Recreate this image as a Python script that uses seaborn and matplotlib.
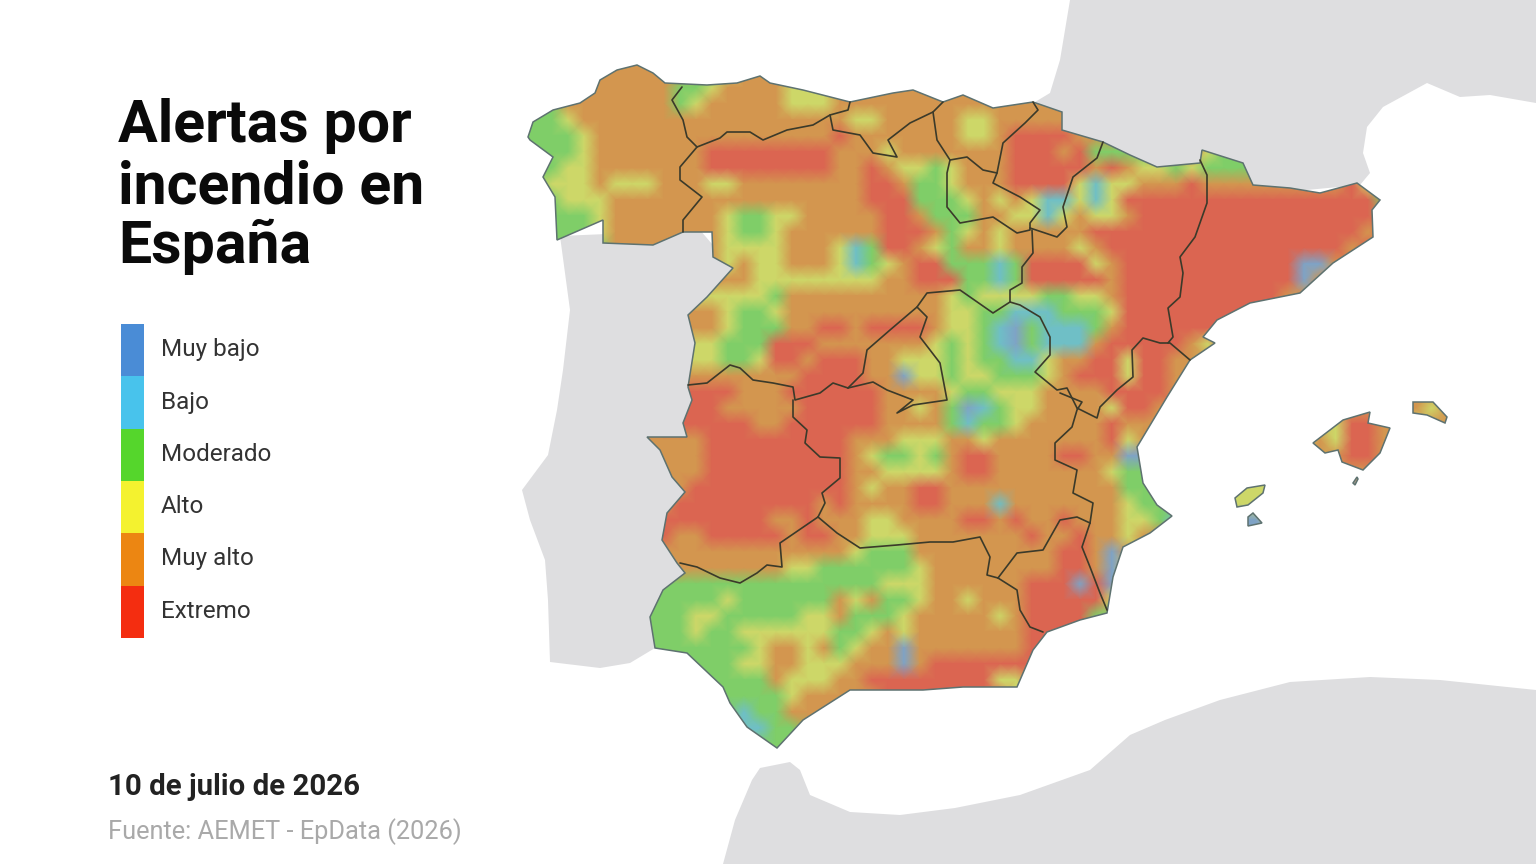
import numpy as np
import pandas as pd
import seaborn as sns
import matplotlib.pyplot as plt
from matplotlib.colors import ListedColormap
from matplotlib.path import Path
from matplotlib.patches import PathPatch
from matplotlib.transforms import Affine2D, ScaledTranslation

sns.set_theme(style='white')
plt.rcParams['font.family'] = ['Roboto', 'DejaVu Sans']

# Legend
risk_levels = ['Muy bajo', 'Bajo', 'Moderado', 'Alto', 'Muy alto', 'Extremo']
key_colors = ['#4A8CD6', '#48C3EC', '#55D62C', '#F4F22F', '#EC8612', '#F42D10']
map_colors = ['#7FA3C6', '#6FBFC6', '#7FCE68', '#CDD768', '#D3964F', '#DB6551']

# Columns start at x=528 and are grouped by five.
risk_rows = [
    "....4 4444. ..... 44444 4",
    "....4 44442 23444 43334 44444 44444 44",
    "...44 44442 34444 43334 44444 44444 44444",
    "22344 44444 44444 44444 33444 44334 44444",
    "22234 44444 44444 44445 44444 44334 55554 4",
    "22234 44444 45555 55554 44344 44444 55545 22224 44322 2",
    "22334 44444 45555 55554 45433 23444 55555 45433 23222 22344 3",
    "23334 33344 43344 44444 45542 23444 55553 13344 45444 44444 4532",
    "22333 44444 44444 44444 45552 22343 43113 13555 55555 55555 5552",
    ".2223 44444 44322 33444 44554 22244 33134 33455 55555 55555 5554",
    ".2223 44444 44322 34444 44555 42343 44444 55555 55555 55555 554",
    "..... 44444 44333 34443 12554 32443 44443 45555 55555 55555 54",
    "..... ..... 44343 34443 12345 52221 25555 34555 55555 55500 4",
    "..... ..... 44443 33333 33445 55221 25555 54555 55555 55504",
    "..... ..... 33333 24444 44444 43233 33223 34555 55555 5544",
    "..... ....4 44322 34444 44444 43322 11122 23555 55555 5",
    "..... ....4 44322 24455 45555 43321 02111 24555 55555",
    "..... ....3 33222 55544 44444 32321 02111 45555 543",
    "..... ....3 33223 55455 54433 32322 11344 55355 44",
    "..... ....4 44444 44555 54403 32332 22345 55355 4",
    "..... ....5 55544 45555 55444 43223 33444 45555 4",
    "..... ....5 55444 44555 55443 42012 33444 43554",
    "..... ....5 55554 45555 55444 42122 34444 45444",
    "..... ...44 45555 55555 44433 34434 44444 45344",
    "..... ...44 45555 55555 43223 24554 44455 4400",
    "..... ...44 45555 55555 44333 34554 44444 4322",
    "..... ....4 55555 55555 43445 54444 44444 4422",
    "..... ....5 55555 55545 44445 54441 44444 44322 2",
    "..... ....5 55555 44544 43344 44554 54454 44332 1",
    "..... ....4 45555 54554 43334 44444 45445 44344",
    "..... ....4 44444 44444 32224 44444 44455 404",
    "..... ....4 44444 43322 22223 44444 44455 403",
    "..... ...22 22222 22222 22333 44444 45550 500",
    "..... ...22 22322 22224 34223 44344 45555 53",
    "..... ...22 33222 22334 22234 44443 45555 22",
    "..... ...22 32233 33332 23434 44444 45555",
    "..... ...22 22223 44342 34404 44444 4555",
    "..... ....2 22233 44333 44404 55555 555",
    "..... ..... .2222 43334 45555 55553 35",
    "..... ..... .2222 23444 4",
    "..... ..... ...12 2444",
    "..... ..... ...11 22",
    "..... ..... ....2 2",
]
# Islands: (row, first column, levels), same rows and columns as above
island_rows = [
    (21, 50, "444"), (22, 49, "33554"), (23, 49, "43554"), (24, 49, "44554"), (25, 51, "44"),
    (26, 51, "0"), (21, 55, "434"), (22, 55, "344"), (20, 55, "444"),
    (26, 44, "333"), (27, 44, "333"), (28, 44, "00"), (29, 44, "00"),
]

# Outlines in picture pixels
spain_outline = [(528,137),(533,122),(553,110),(580,103),(595,93),(600,80),(617,70),(637,65),(653,73),(665,83),
    (707,85),(737,83),(760,76),(770,83),(803,90),(850,102),(893,93),(913,90),(943,102),(963,95),(993,108),
    (1033,102),(1062,112),(1062,130),(1103,142),(1130,155),(1157,167),(1200,163),(1202,150),(1243,163),
    (1253,185),(1290,188),(1320,193),(1357,183),(1380,200),(1372,210),(1373,237),(1333,263),(1300,293),
    (1250,303),(1217,320),(1203,337),(1215,343),(1190,360),(1167,397),(1137,447),(1143,483),(1157,505),
    (1172,516),(1150,533),(1123,547),(1113,577),(1107,613),(1080,620),(1047,632),(1033,650),(1017,687),
    (963,687),(923,690),(850,690),(803,720),(777,748),(747,727),(730,703),(723,687),(687,653),(655,648),
    (650,617),(663,590),(685,573),(677,563),(662,540),(667,513),(685,492),(672,477),(660,450),(647,437),
    (687,437),(683,423),(692,400),(688,387),(695,343),(688,315),(707,297),(733,268),(713,257),(712,232),
    (683,232),(653,245),(603,243),(603,220),(557,240),(555,197),(543,177),(553,157),(530,140)]
mallorca = [(1313,443),(1343,420),(1370,412),(1368,423),(1390,428),(1380,453),(1363,470),(1342,462),(1338,450),(1325,453)]
menorca = [(1413,402),(1433,402),(1447,417),(1445,423),(1427,415),(1413,413)]
ibiza = [(1235,498),(1247,488),(1265,485),(1263,493),(1248,505),(1237,507)]
formentera = [(1248,517),(1253,513),(1262,523),(1248,526)]
cabrera = [(1353,483),(1357,477),(1358,479),(1355,485)]

portugal = [(560,236),(570,310),(563,370),(557,410),(548,455),(522,490),(530,520),(545,560),(548,600),(550,662),
    (600,668),(630,663),(655,648),(720,500),(760,300),(700,230)]
france = [(1070,0),(1536,0),(1536,103),(1490,95),(1460,97),(1427,83),(1383,107),(1367,127),(1363,153),(1370,173),
    (1360,185),(1200,200),(1000,130),(1035,102),(1050,93),(1060,60)]
africa = [(723,864),(735,820),(752,780),(760,768),(790,762),(800,770),(810,795),(850,812),(900,815),(955,808),
    (1020,795),(1090,770),(1130,735),(1165,720),(1220,700),(1290,682),(1370,677),(1440,680),(1536,690),(1536,864)]

region_borders = [
    [(682,87),(672,100),(683,120),(687,137),(697,147),(680,167),(680,180),(702,197),(683,220),(683,232)],
    [(697,147),(720,138),(727,132),(750,132),(763,140),(787,130),(813,125),(830,115),(848,110),(850,102)],
    [(830,115),(833,130),(860,135),(873,153),(897,157),(888,140),(910,123),(933,112),(943,102)],
    [(933,112),(937,140),(950,160),(967,157),(983,170),(997,173),(1003,143),(1025,123),(1038,110),(1033,102)],
    [(997,173),(993,183),(1020,197),(1040,210),(1030,223),(1030,230),(1017,233),(993,217),(960,223),(947,207),(947,173),(950,160)],
    [(1103,142),(1097,158),(1073,177),(1063,207),(1067,227),(1057,237),(1030,228)],
    [(1032,230),(1033,253),(1022,267),(1022,283),(1010,290),(1010,302),(1020,305),(1040,317),(1050,337),(1050,355),
     (1035,372),(1057,390),(1067,388),(1077,408)],
    [(1010,302),(993,313),(960,290),(927,293),(917,307),(890,330),(867,350),(863,373),(848,388)],
    [(917,307),(927,317),(920,337),(940,363),(947,400),(913,405),(897,413),(913,400),(887,390),(873,382),(848,388)],
    [(688,385),(707,383),(730,365),(740,368),(753,380),(773,383),(793,387),(795,400),(820,393),(833,383),(848,388)],
    [(793,400),(793,417),(807,430),(805,443),(820,457),(840,458),(840,478),(822,493),(825,503),(818,517)],
    [(818,517),(780,543),(782,567),(767,565),(757,573),(740,583),(720,578),(697,567),(680,563)],
    [(818,517),(837,533),(860,548),(897,545),(930,542),(953,542),(980,537),(990,557),(987,575),(998,578)],
    [(998,578),(1017,590),(1020,610),(1030,627),(1043,632)],
    [(998,578),(1017,553),(1043,550),(1060,520),(1077,517),(1090,523)],
    [(1090,523),(1082,547),(1090,567),(1100,593),(1107,610)],
    [(1090,523),(1093,503),(1073,493),(1077,470),(1055,460),(1055,443),(1072,427),(1077,410),(1082,402),(1060,393)],
    [(1077,408),(1097,418),(1100,407),(1117,390),(1133,377),(1132,350),(1143,338),(1160,343),(1170,343),(1190,360)],
    [(1200,160),(1207,175),(1207,203),(1195,237),(1180,257),(1183,273),(1180,297),(1168,308),(1173,337),(1168,343)],
]

CELL = 16


def to_cells(points):
    return np.array(points, dtype=float) / CELL


# Build the full-picture grid of levels
grid = np.full((54, 96), np.nan)
for r, row in enumerate(risk_rows):
    for c, ch in enumerate(row.replace(' ', '')):
        if ch != '.':
            grid[r + 4, c + 33] = int(ch)
for r, c, levels in island_rows:
    for k, ch in enumerate(levels):
        grid[r + 4, c + 33 + k] = int(ch)

# Repeat edge cells outward so the smooth shading does not fade at the coast,
# everything past the coastline is clipped away below
for _ in range(2):
    padded = grid.copy()
    for r, c in np.argwhere(np.isnan(grid)):
        near = grid[max(r - 1, 0):r + 2, max(c - 1, 0):c + 2]
        near = near[np.isfinite(near)]
        if near.size:
            padded[r, c] = near[0]
    grid = padded
risk = pd.DataFrame(grid)

fig = plt.figure(figsize=(15.36, 8.64), dpi=100, facecolor='white')
ax = fig.add_axes([0, 0, 1, 1])

sns.heatmap(risk, ax=ax, cmap=ListedColormap(map_colors), vmin=-0.5, vmax=5.5,
            cbar=False, xticklabels=False, yticklabels=False, shading='gouraud')
mesh = ax.collections[0]
mesh.set_zorder(2)
# gouraud puts values on the cell corners, move them to the cell centres
mesh.set_transform(Affine2D().translate(0.5, 0.5) + ax.transData)

# Neighbouring land
for land in [portugal, france, africa]:
    ax.fill(*to_cells(land).T, color='#DEDEE0', lw=0, zorder=1)

# Clip the levels to the coastline
shapes = [spain_outline, mallorca, menorca, ibiza, formentera, cabrera]
paths = [Path(np.vstack([to_cells(s), to_cells(s)[:1]]), closed=True) for s in shapes]
clip = PathPatch(Path.make_compound_path(*paths), transform=ax.transData,
                 facecolor='none', edgecolor='#5E7270', lw=1.1, zorder=3)
ax.add_patch(clip)
mesh.set_clip_path(clip)

for border in region_borders:
    ax.plot(*to_cells(border).T, color='#3B3A2A', lw=1.2, zorder=4)

ax.set_xlim(0, 96)
ax.set_ylim(54, 0)
ax.axis('off')

# Title and footer
for line, base in zip(['Alertas por', 'incendio en', 'España'], [142, 203, 263]):
    ax.text(118 / CELL, base / CELL, line, fontsize=42.5, fontweight='bold', color='#0A0A0A', va='baseline')
ax.text(108 / CELL, 795 / CELL, '10 de julio de 2026', fontsize=21.2, fontweight='bold', color='#222222', va='baseline')
ax.text(108 / CELL, 839 / CELL, 'Fuente: AEMET - EpData (2026)', fontsize=18.3, color='#A9A9A9', va='baseline')

# Colour key
ax_key = fig.add_axes([121 / 1536, (864 - 638) / 864, 23 / 1536, 314 / 864])
sns.heatmap(pd.DataFrame({'nivel': range(6)}, index=risk_levels), ax=ax_key, cmap=ListedColormap(key_colors),
            vmin=-0.5, vmax=5.5, cbar=False, xticklabels=False, yticklabels=True)
ax_key.yaxis.tick_right()
ax_key.tick_params(axis='y', length=0, pad=12, labelrotation=0, labelsize=17.5, labelcolor='#333333')
ax_key.set_ylabel('')
for label in ax_key.get_yticklabels():
    label.set_transform(label.get_transform() + ScaledTranslation(0, 3 / 100, fig.dpi_scale_trans))

fig.savefig('out.png', dpi=100)
